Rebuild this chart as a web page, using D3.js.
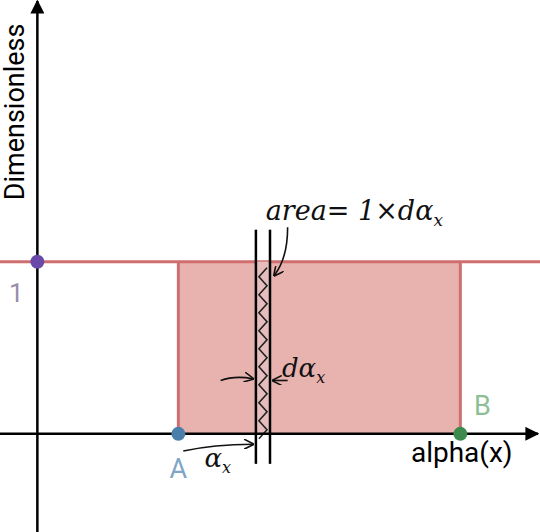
<!DOCTYPE html>
<html>
<head>
<script src="https://cdn.jsdelivr.net/npm/d3@7"></script>
<style>
body { margin: 0; background: white; }
text { font-family: Roboto, "Noto Sans", sans-serif; }
text.hand { font-family: "DejaVu Serif", serif; font-style: italic; fill: #111; }
</style>
</head>
<body>
<script>
// values
var pointA = 2, pointB = 6;
var height1 = 1;
var strip = [3.1, 3.3];
var xDomain = [-0.53, 7.13];
var yDomain = [-0.57, 2.52];

var w = 540, h = 532;
var svg = d3.select("body").append("svg").attr("width", w).attr("height", h);

var x = d3.scaleLinear().domain(xDomain).range([0, w]);
var y = d3.scaleLinear().domain(yDomain).range([h, 0]);

var defs = svg.append("defs");
defs.append("marker").attr("id", "ah").attr("viewBox", "0 0 10 10")
	.attr("refX", 9).attr("refY", 5).attr("markerWidth", 20).attr("markerHeight", 14)
	.attr("markerUnits", "userSpaceOnUse").attr("orient", "auto")
	.append("path").attr("d", "M0,0L10,5L0,10Z").attr("fill", "#000");
defs.append("marker").attr("id", "hand").attr("viewBox", "0 0 10 10")
	.attr("refX", 9).attr("refY", 5).attr("markerWidth", 10).attr("markerHeight", 10)
	.attr("markerUnits", "userSpaceOnUse").attr("orient", "auto")
	.append("path").attr("d", "M0,0L10,5L0,10").attr("fill", "none")
	.attr("stroke", "#111").attr("stroke-width", 1.6);

// shaded rectangle
svg.append("rect")
	.attr("x", x(pointA)).attr("y", y(height1))
	.attr("width", x(pointB) - x(pointA)).attr("height", y(0) - y(height1))
	.attr("fill", "#e8b2ae");
// red line y = 1 across plot
svg.append("line").attr("x1", 0).attr("x2", w).attr("y1", y(height1)).attr("y2", y(height1))
	.attr("stroke", "#cf6e6e").attr("stroke-width", 3);
[pointA, pointB].forEach(function(v) {
	svg.append("line").attr("x1", x(v)).attr("x2", x(v)).attr("y1", y(height1)).attr("y2", y(0))
		.attr("stroke", "#cf6e6e").attr("stroke-width", 3);
});

// hatched strip
var zig = [];
var zTop = y(height1) + 6, zBot = y(0) + 6;
for (var yy = zTop, k = 0; yy < zBot; yy += 9, k++) {
	zig.push([k % 2 ? x(strip[0]) + 3 : x(strip[1]) - 3, yy]);
}
svg.append("rect").attr("x", x(strip[0])).attr("y", y(height1))
	.attr("width", x(strip[1]) - x(strip[0])).attr("height", y(0) - y(height1))
	.attr("fill", "#e6bcbc");
svg.append("path").attr("d", d3.line()(zig))
	.attr("fill", "none").attr("stroke", "#222").attr("stroke-width", 1.6);
strip.forEach(function(v) {
	svg.append("line").attr("x1", x(v)).attr("x2", x(v))
		.attr("y1", y(height1) - 32).attr("y2", y(0) + 30)
		.attr("stroke", "#000").attr("stroke-width", 2.5);
});

// axes
svg.append("line").attr("x1", 0).attr("x2", w - 2).attr("y1", y(0)).attr("y2", y(0))
	.attr("stroke", "#000").attr("stroke-width", 2.5).attr("marker-end", "url(#ah)");
svg.append("line").attr("x1", x(0)).attr("x2", x(0)).attr("y1", h).attr("y2", 1)
	.attr("stroke", "#000").attr("stroke-width", 2.5).attr("marker-end", "url(#ah)");

// points
svg.append("circle").attr("cx", x(0)).attr("cy", y(height1)).attr("r", 7).attr("fill", "#6a4aa8");
svg.append("circle").attr("cx", x(pointA)).attr("cy", y(0)).attr("r", 7).attr("fill", "#4a7fab");
svg.append("circle").attr("cx", x(pointB)).attr("cy", y(0)).attr("r", 7).attr("fill", "#3c8a4e");

// labels
svg.append("text").attr("x", x(0) - 21).attr("y", y(height1) + 40).attr("text-anchor", "middle")
	.attr("font-size", 26).attr("fill", "#9a8cac").text("1");
svg.append("text").attr("x", x(pointA)).attr("y", y(0) + 44).attr("text-anchor", "middle")
	.attr("font-size", 27).attr("fill", "#7fa6c6").text("A");
svg.append("text").attr("x", x(pointB) + 22).attr("y", y(0) - 19).attr("text-anchor", "middle")
	.attr("font-size", 27).attr("fill", "#8cbf94").text("B");
svg.append("text").attr("x", x(6.02)).attr("y", y(0) + 28).attr("text-anchor", "middle")
	.attr("font-size", 28).attr("fill", "#000").text("alpha(x)");
svg.append("text").attr("transform", "translate(" + (x(0) - 13) + "," + y(1.87) + ") rotate(-90)")
	.attr("text-anchor", "middle").attr("font-size", 27).attr("fill", "#000").text("Dimensionless");

// handwritten notes
svg.append("text").attr("class", "hand").attr("x", x(3.24)).attr("y", y(1.24))
	.attr("font-size", 27).text("area= 1×dα")
	.append("tspan").attr("dy", 6).attr("font-size", 17).text("x");
svg.append("path").attr("d", "M" + (x(3.55)) + "," + y(1.2) + " Q" + x(3.55) + "," + y(1.02) + " " + x(3.36) + "," + y(0.92))
	.attr("fill", "none").attr("stroke", "#111").attr("stroke-width", 1.6).attr("marker-end", "url(#hand)");
svg.append("text").attr("class", "hand").attr("x", x(3.47)).attr("y", y(0.33))
	.attr("font-size", 26).text("dα")
	.append("tspan").attr("dy", 6).attr("font-size", 16).text("x");
svg.append("path").attr("d", "M" + x(2.6) + "," + y(0.31) + " Q" + x(2.8) + "," + y(0.34) + " " + x(3.06) + "," + y(0.32))
	.attr("fill", "none").attr("stroke", "#111").attr("stroke-width", 1.6).attr("marker-end", "url(#hand)");
svg.append("path").attr("d", "M" + x(3.55) + "," + y(0.31) + " L" + x(3.34) + "," + y(0.31))
	.attr("fill", "none").attr("stroke", "#111").attr("stroke-width", 1.6).attr("marker-end", "url(#hand)");
svg.append("path").attr("d", "M" + x(2.07) + "," + y(-0.1) + " Q" + x(2.5) + "," + y(-0.06) + " " + x(3.06) + "," + y(-0.06))
	.attr("fill", "none").attr("stroke", "#111").attr("stroke-width", 1.6).attr("marker-end", "url(#hand)");
svg.append("text").attr("class", "hand").attr("x", x(2.37)).attr("y", y(-0.19))
	.attr("font-size", 26).text("α")
	.append("tspan").attr("dy", 6).attr("font-size", 16).text("x");
</script>
</body>
</html>
